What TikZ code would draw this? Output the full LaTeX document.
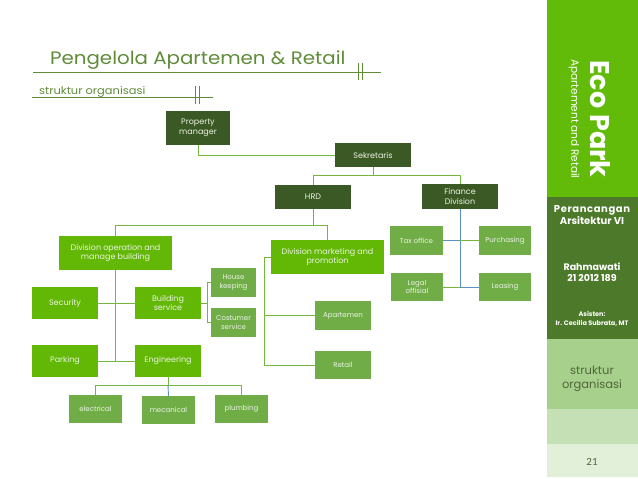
\documentclass[tikz,border=0pt]{standalone}
\usepackage{fontspec}
\setmainfont{Poppins}
\newfontfamily\calibri{Carlito}
\newfontfamily\widefont[FakeStretch=1.1]{Poppins}
\newfontfamily\subfont[FakeStretch=1.09]{Poppins}
\usetikzlibrary{calc}
\definecolor{dkg}{RGB}{58,89,36}
\definecolor{brg}{RGB}{98,184,4}
\definecolor{mdg}{RGB}{112,173,71}
\definecolor{lng}{RGB}{118,182,62}
\definecolor{ttl}{RGB}{96,140,58}
\definecolor{blu}{RGB}{92,144,196}
\definecolor{btx}{RGB}{236,244,228}
\definecolor{pA}{RGB}{98,187,8}
\definecolor{pB}{RGB}{76,122,42}
\definecolor{pC}{RGB}{168,208,141}
\definecolor{pD}{RGB}{197,224,180}
\definecolor{pE}{RGB}{226,239,217}
\definecolor{ptx}{RGB}{78,104,55}
\begin{document}
\begin{tikzpicture}[x=1pt,y=-1pt,
  box/.style={inner sep=0pt,outer sep=0pt,align=center,text=btx,font=\fontsize{8}{9.5}\selectfont},
  dark/.style={box,fill=dkg},
  bright/.style={box,fill=brg},
  mid/.style={box,fill=mdg,font=\fontsize{7}{8.5}\selectfont},
  ln/.style={draw=lng,line width=0.9pt},
  bl/.style={draw=blu,line width=0.9pt},
  tl/.style={draw=ttl,line width=0.8pt},
  ptext/.style={align=center,inner sep=0pt}]
\useasboundingbox (0,0) rectangle (638,479);
\fill[white] (0,0) rectangle (638,479);

% titles
\node[anchor=base west,inner sep=0pt,text=ttl,font=\widefont\fontsize{18}{18}\selectfont] (title) at (50,64) {Pengelola Apartemen \& Retail};
\draw[tl] (33,72) -- (381,72);
\draw[tl] (358,63) -- (358,80);
\draw[tl] (362,63) -- (362,80);
\node[anchor=base west,inner sep=0pt,text=ttl,font=\subfont\fontsize{10.5}{10.5}\selectfont] (sub) at (39,94) {struktur organisasi};
\draw[tl] (32,97) -- (213,97);
\draw[tl] (195,86) -- (195,104);
\draw[tl] (199,86) -- (199,104);

% boxes
\node[dark,minimum width=64,minimum height=34] (pm) at (198,128) {Property\\manager};
\node[dark,minimum width=76,minimum height=24] (sek) at (373,155) {Sekretaris};
\node[dark,minimum width=76,minimum height=24] (hrd) at (313,197) {HRD};
\node[dark,minimum width=76,minimum height=25] (fin) at (460,196.5) {Finance\\Division};
\node[bright,minimum width=113,minimum height=34] (divop) at (115.5,253) {Division operation and\\manage building};
\node[bright,minimum width=113,minimum height=34] (divmk) at (327.5,257) {Division marketing and\\promotion};
\node[bright,minimum width=66,minimum height=32] (sec) at (65,303) {Security};
\node[bright,minimum width=66,minimum height=32] (bs) at (168,303) {Building\\service};
\node[mid,minimum width=45,minimum height=29] (hk) at (233.5,282.5) {House\\keeping};
\node[mid,minimum width=45,minimum height=29] (cs) at (233.5,322.5) {Costumer\\service};
\node[bright,minimum width=66,minimum height=32] (park) at (65,361) {Parking};
\node[bright,minimum width=66,minimum height=32] (eng) at (168,361) {Engineering};
\node[mid,minimum width=53,minimum height=28] (elec) at (95.5,409) {electrical};
\node[mid,minimum width=53,minimum height=28] (mec) at (168.5,410) {mecanical};
\node[mid,minimum width=53,minimum height=28] (plu) at (241.5,409) {plumbing};
\node[mid,minimum width=56,minimum height=29] (apt) at (343,315.5) {Apartemen};
\node[mid,minimum width=56,minimum height=28] (ret) at (343,365) {Retail};
\node[mid,minimum width=53,minimum height=29] (tax) at (416.5,240.5) {Tax office};
\node[mid,minimum width=52,minimum height=29] (pur) at (505,240.5) {Purchasing};
\node[mid,minimum width=52,minimum height=28] (leg) at (417,287) {Legal\\offisial};
\node[mid,minimum width=52,minimum height=28] (lea) at (505,287) {Leasing};

% connectors
\draw[ln] (pm.south) |- (sek.west);
\draw[ln] (sek.south) -- ++(0,8) -| (hrd.north);
\draw[ln] (sek.south) ++(0,8) -| (fin.north);
\draw[ln] (hrd.south) -- ++(0,16) -| (divop.north);
\draw[ln] (hrd.south) ++(0,16) -| (divmk.north);
\draw[ln] (divop.south) |- (eng.west);
\draw[ln] (park.east) -- (eng.west);
\draw[ln] (sec.east) -- (bs.west);
\draw[ln] (bs.east) -- ++(6,0);
\draw[ln] (hk.west) -- ++(-4,0) |- (cs.west);
\draw[ln] (eng.south) -- ++(0,8) coordinate (ej) -| (elec.north);
\draw[ln] (ej) -| (plu.north);
\draw[bl] (ej) -- (mec.north);
\draw[ln] (divmk.west) -- ++(-7,0) coordinate (mj) |- (ret.west);
\draw[ln] (mj |- apt.west) -- (apt.west);
\draw[bl] (fin.south) -- (fin.south |- lea.west) -- (lea.west);
\draw[bl] (tax.east) -- (fin.south |- tax.east);
\draw[ln] (fin.south |- pur.west) -- (pur.west);
\draw[ln] (leg.east) -- (fin.south |- leg.east);

% right panel
\fill[pA] (547,0) rectangle (638,197);
\fill[pB] (547,197) rectangle (638,339);
\fill[pC] (547,339) rectangle (638,409);
\fill[pD] (547,409) rectangle (638,444);
\fill[pE] (547,444) rectangle (638,477);
\node[ptext,rotate=-90,text=white,font=\bfseries\fontsize{27}{27}\selectfont] (eco) at (600,119) {Eco Park};
\node[ptext,rotate=-90,text=white,font=\fontsize{10.5}{10.5}\selectfont] (apre) at (574,119) {Apartement and Retail};
\node[ptext,text=white,font=\bfseries\fontsize{10}{12}\selectfont] (pa) at (592,215) {\addfontfeatures{LetterSpace=6}Perancangan\\Arsitektur VI};
\node[ptext,text=white,font=\bfseries\fontsize{9.5}{11}\selectfont] (rh) at (592,272.5) {Rahmawati\\21 2012 189};
\node[ptext,text=white,font=\bfseries\fontsize{6.5}{9}\selectfont] (as) at (592,318.5) {Asisten:\\Ir. Cecilia Subrata, MT};
\node[ptext,text=ptx,font=\fontsize{11.5}{14}\selectfont] (so) at (592,379) {struktur\\organisasi};
\node[ptext,text=ptx,font=\calibri\fontsize{11}{11}\selectfont] (pg) at (592,462) {21};
\end{tikzpicture}
\end{document}
